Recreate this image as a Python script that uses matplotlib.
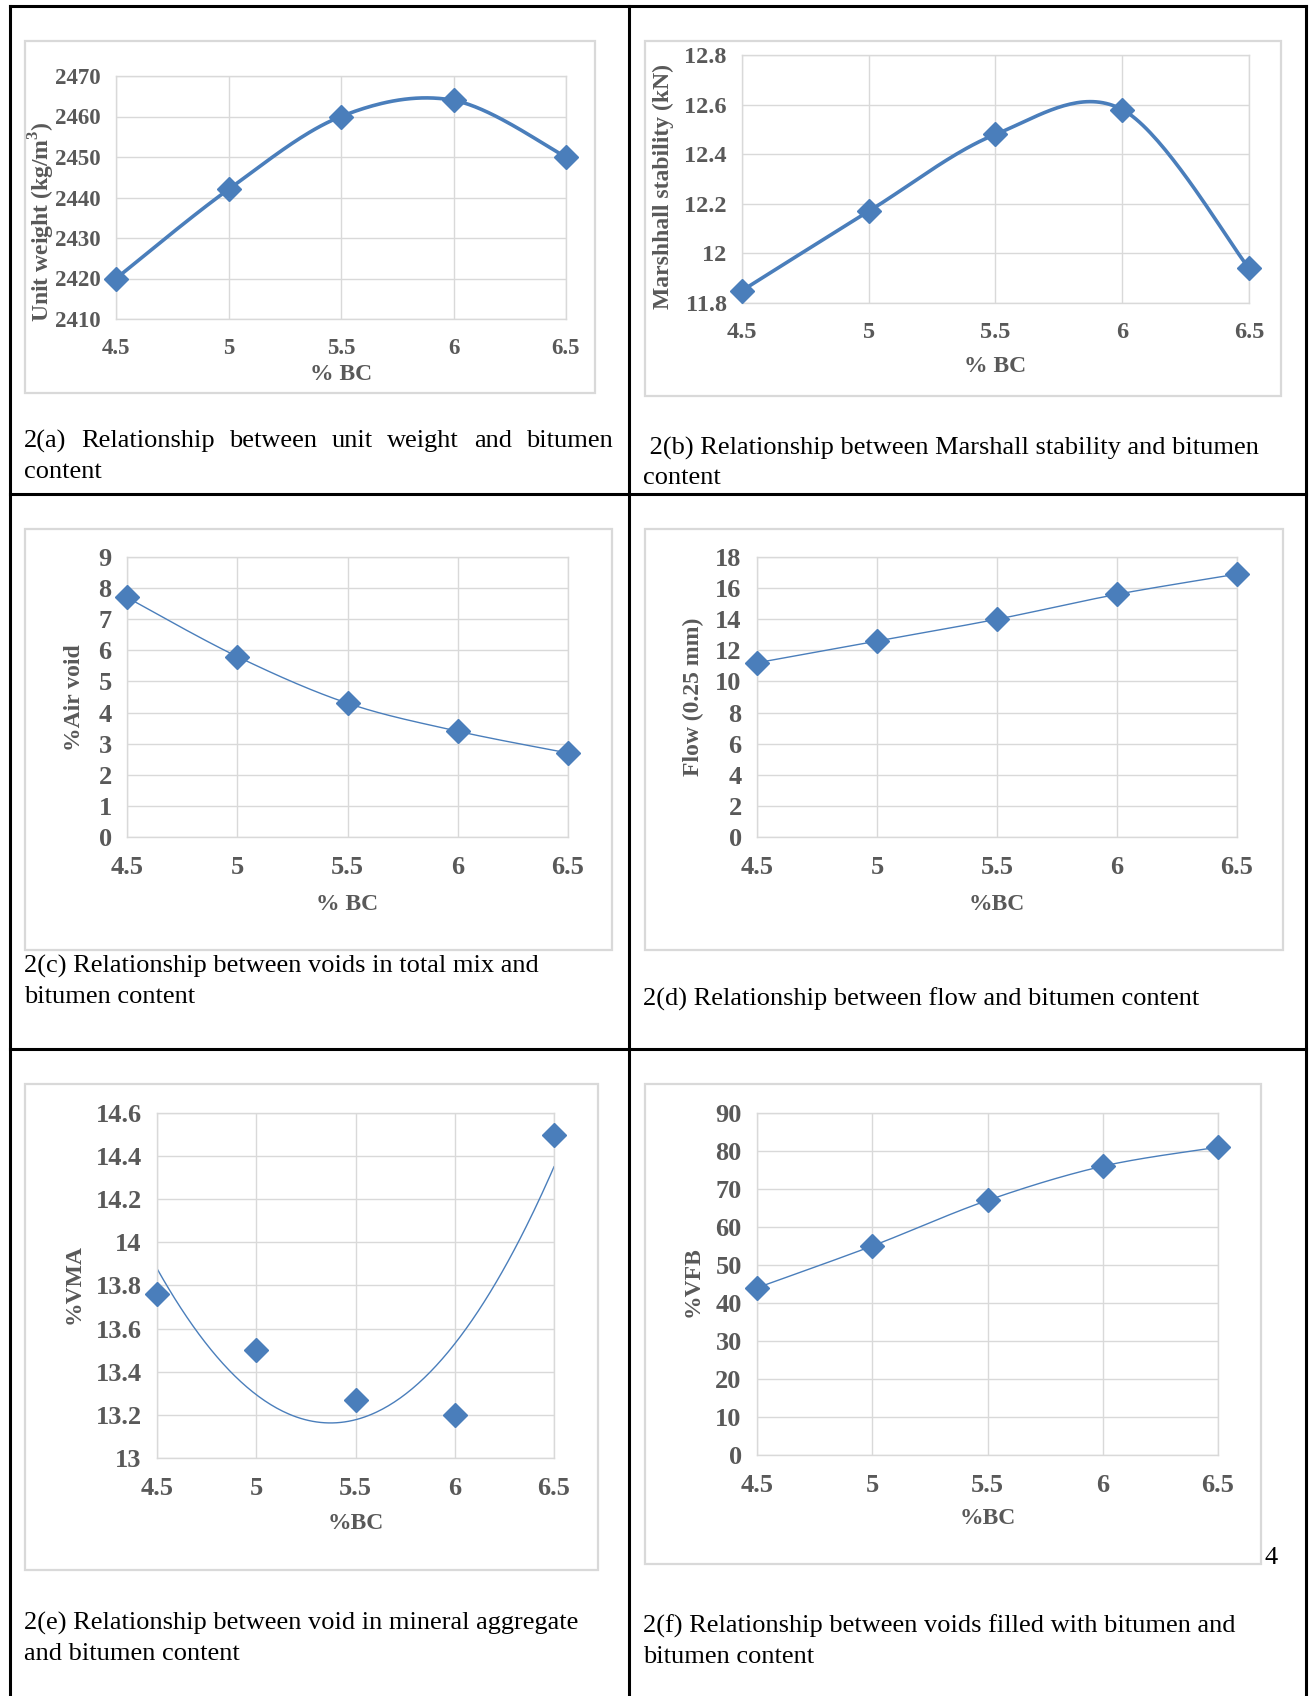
import numpy as np
import matplotlib
matplotlib.use("Agg")
import matplotlib.pyplot as plt
from matplotlib.patches import Rectangle
from matplotlib.lines import Line2D

W, H = 1311, 1696

# data
bc = [4.5, 5, 5.5, 6, 6.5]
unit_weight = [2420, 2442, 2460, 2464, 2450]
stability = [11.85, 12.17, 12.48, 12.58, 11.94]
air_void = [7.7, 5.8, 4.3, 3.4, 2.7]
flow = [11.2, 12.6, 14.0, 15.6, 16.9]
vma = [13.76, 13.50, 13.27, 13.20, 14.50]
vfb = [44, 55, 67, 76, 81]

captions = {
    'a': ["2(a) Relationship between unit weight and bitumen", "content"],
    'b': [" 2(b) Relationship between Marshall stability and bitumen", "content"],
    'c': ["2(c) Relationship between voids in total mix and", "bitumen content"],
    'd': ["2(d) Relationship between flow and bitumen content"],
    'e': ["2(e) Relationship between void in mineral aggregate", "and bitumen content"],
    'f': ["2(f) Relationship between voids filled with bitumen and", "bitumen content"],
}

BLUE = '#4A7EBB'
GRAY = '#595959'
GRID = '#D9D9D9'
plt.rcParams['font.family'] = ['Liberation Serif', 'DejaVu Serif']


def fx(x):
    return x / W


def fy(y):
    return 1 - y / H


def smooth(x, y, n=40):
    # catmull-rom curve, close to excel's "smoothed line"
    p = np.column_stack([x, y]).astype(float)
    p = np.vstack([p[0], p, p[-1]])
    t = np.linspace(0, 1, n)[:, None]
    out = []
    for i in range(len(p) - 3):
        p0, p1, p2, p3 = p[i], p[i + 1], p[i + 2], p[i + 3]
        seg = 0.5 * (2 * p1 + (p2 - p0) * t + (2 * p0 - 5 * p1 + 4 * p2 - p3) * t ** 2
                     + (3 * p1 - p0 - 3 * p2 + p3) * t ** 3)
        out.append(seg)
    out = np.vstack(out)
    return out[:, 0], out[:, 1]


def chart(box, plot, yticks, ylabel, xlabel, ylab_pos, xlab_y, tick_fs, lab_fs):
    x0, y0, x1, y1 = box
    fig.add_artist(Rectangle((fx(x0), fy(y1)), fx(x1 - x0), (y1 - y0) / H,
                             transform=fig.transFigure, fill=False,
                             edgecolor=GRID, lw=1.6))
    x0, y0, x1, y1 = plot
    ax = fig.add_axes([fx(x0), fy(y1), fx(x1 - x0), (y1 - y0) / H])
    ax.set_xlim(4.5, 6.5)
    ax.set_ylim(yticks[0], yticks[-1])
    ax.set_xticks(bc)
    ax.set_xticklabels(['%g' % v for v in bc])
    ax.set_yticks(yticks)
    ax.set_yticklabels(['%g' % v for v in yticks])
    ax.grid(True, color=GRID, lw=1.0)
    ax.set_axisbelow(True)
    for s in ax.spines.values():
        s.set_color(GRID)
        s.set_linewidth(1.0)
    ax.tick_params(length=0, labelsize=tick_fs, labelcolor=GRAY)
    ax.tick_params(axis='y', pad=11)
    ax.tick_params(axis='x', pad=14)
    for lb in ax.get_xticklabels() + ax.get_yticklabels():
        lb.set_fontweight('bold')
    ax.set_ylabel(ylabel, fontsize=lab_fs, fontweight='bold', color=GRAY)
    ax.set_xlabel(xlabel, fontsize=lab_fs, fontweight='bold', color=GRAY)
    ax.yaxis.set_label_coords(*ylab_pos)
    ax.yaxis.label.set_va('center')
    ax.xaxis.set_label_coords(0.5, xlab_y)
    ax.xaxis.label.set_va('center')
    return ax


def caption(lines, xs, ys, fs=19):
    for txt, xx, yy in zip(lines, xs, ys):
        fig.text(fx(xx), fy(yy), txt, fontsize=fs, ha='left', va='center', color='black')


def justified(txt, x0, x1, y, fs=19):
    # spread words so the line fills x0..x1 like justified paragraph text
    words = txt.split()
    r = fig.canvas.get_renderer()
    ts = [fig.text(0, 0, w, fontsize=fs, va='center') for w in words]
    widths = [t.get_window_extent(r).width for t in ts]
    gap = (x1 - x0 - sum(widths)) / (len(words) - 1)
    x = x0
    for t, w in zip(ts, widths):
        t.set_position((fx(x), fy(y)))
        x += w + gap


fig = plt.figure(figsize=(W / 100, H / 100), dpi=100)
fig.patch.set_facecolor('white')

# table rules
lw = 2.2
for xv in (10, 629, 1306):
    fig.add_artist(Line2D([fx(xv), fx(xv)], [fy(6), fy(1700)], color='black', lw=lw,
                          transform=fig.transFigure))
for yv in (6, 494, 1049):
    fig.add_artist(Line2D([fx(10), fx(1306)], [fy(yv), fy(yv)], color='black', lw=lw,
                          transform=fig.transFigure))

# 2(a)
ax = chart((25, 41, 595, 393), (116, 76, 566, 319), np.arange(2410, 2471, 10),
           'Unit weight (kg/m$^\\mathregular{3}$)', '% BC', (-0.165, 0.40), -0.23, 16.5, 17)
sx, sy = smooth(bc, unit_weight)
ax.plot(sx, sy, color=BLUE, lw=2.6, clip_on=False)
ax.plot(bc, unit_weight, 'D', color=BLUE, ms=12, clip_on=False, zorder=5)

# 2(b)
ax = chart((645, 41, 1281, 396), (742, 55, 1249, 303), np.round(np.arange(11.8, 12.81, 0.2), 1),
           'Marshhall stability (kN)', '% BC', (-0.155, 0.47), -0.258, 17.5, 17)
sx, sy = smooth(bc, stability)
ax.plot(sx, sy, color=BLUE, lw=2.6, clip_on=False)
ax.plot(bc, stability, 'D', color=BLUE, ms=12, clip_on=False, zorder=5)

# 2(c)
ax = chart((25, 529, 612, 950), (127, 557, 568, 837), np.arange(0, 10, 1),
           '%Air void', '% BC', (-0.12, 0.496), -0.24, 19, 17)
sx, sy = smooth(bc, air_void)
ax.plot(sx, sy, color=BLUE, lw=1.0, clip_on=False)
ax.plot(bc, air_void, 'D', color=BLUE, ms=12, clip_on=False, zorder=5)

# 2(d)
ax = chart((645, 529, 1283, 950), (757, 557, 1237, 837), np.arange(0, 19, 2),
           'Flow (0.25 mm)', '%BC', (-0.133, 0.5), -0.24, 19, 17)
sx, sy = smooth(bc, flow)
ax.plot(sx, sy, color=BLUE, lw=1.0, clip_on=False)
ax.plot(bc, flow, 'D', color=BLUE, ms=12, clip_on=False, zorder=5)

# 2(e) - points with 2nd order polynomial trendline
ax = chart((25, 1084, 598, 1570), (157, 1113, 554, 1458), np.round(np.arange(13, 14.61, 0.2), 1),
           '%VMA', '%BC', (-0.209, 0.504), -0.19, 19, 17)
coef = np.polyfit(bc, vma, 2)
tx = np.linspace(bc[0], bc[-1], 200)
ax.plot(tx, np.polyval(coef, tx), color=BLUE, lw=1.0)
ax.plot(bc, vma, 'D', color=BLUE, ms=12, clip_on=False, zorder=5)

# 2(f)
ax = chart((645, 1084, 1261, 1564), (757, 1113, 1218, 1455), np.arange(0, 91, 10),
           '%VFB', '%BC', (-0.139, 0.506), -0.187, 19, 17)
sx, sy = smooth(bc, vfb)
ax.plot(sx, sy, color=BLUE, lw=1.0, clip_on=False)
ax.plot(bc, vfb, 'D', color=BLUE, ms=12, clip_on=False, zorder=5)

# captions
justified(captions['a'][0], 24, 613, 441)
caption(captions['a'][1:], [24], [472])
caption(captions['b'], [643, 643], [448, 478])
caption(captions['c'], [24, 24], [966, 997])
caption(captions['d'], [643], [999])
caption(captions['e'], [24, 24], [1623, 1654])
caption(captions['f'], [643, 643], [1626, 1657])
fig.text(fx(1271), fy(1558), '4', fontsize=19, ha='center', va='center')

fig.savefig('out.png', dpi=100)
